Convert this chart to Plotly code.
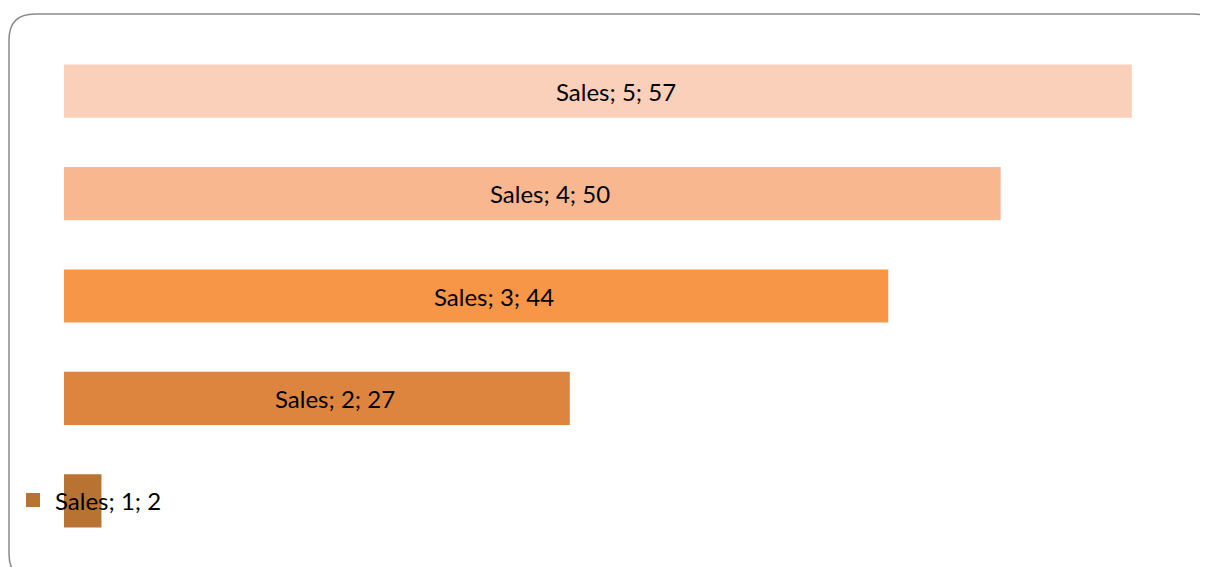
import plotly.graph_objects as go

categories = ["1", "2", "3", "4", "5"]
values = [2, 27, 44, 50, 57]
series_name = "Sales"
colors = ["#B87333", "#DD843F", "#F79646", "#F9B790", "#FBD0BA"]

# the page adds an 8px body margin; work in reference pixels minus that offset
OFF = 8
W, H = 1208 - OFF, 567 - OFF
ML, MR, MT, MB = 64 - OFF, 20, 40 - OFF, 15
XMAX = 60

labels = [f"{series_name}; {c}; {v}" for c, v in zip(categories, values)]
FONT = "Lato, Liberation Sans, sans-serif"

fig = go.Figure()
fig.add_trace(go.Bar(
    x=values, y=categories, orientation="h",
    marker=dict(color=colors, line=dict(width=0)),
    hoverinfo="skip", showlegend=False,
))

pw = W - ML - MR
ph = H - MT - MB
def px(x):
    return (x - OFF - ML) / pw
def py(y):
    return (H - MB - (y - OFF)) / ph

# data labels (centred on bars, nudged right as in the reference)
for i, (v, t) in enumerate(zip(values, labels)):
    if i == 0:
        fig.add_annotation(x=0, y=i, xref="x", yref="y", text=t, showarrow=False,
                           xanchor="left", xshift=-11,
                           font=dict(family=FONT, size=24, color="black"))
    else:
        fig.add_annotation(x=v / 2, y=i, xref="x", yref="y", text=t, showarrow=False,
                           xanchor="center", xshift=18,
                           font=dict(family=FONT, size=24, color="black"))

# legend key beside the first label
fig.add_shape(
    type="rect", xref="paper", yref="paper",
    x0=px(26), x1=px(40), y0=py(507), y1=py(493),
    fillcolor=colors[0], line=dict(width=0), layer="above",
)

# rounded chart border
L, T, R, B, r = 9, 14, 1220, 580, 26
path = (f"M {px(L+r)},{py(T)} L {px(R-r)},{py(T)} Q {px(R)},{py(T)} {px(R)},{py(T+r)} "
        f"L {px(R)},{py(B-r)} Q {px(R)},{py(B)} {px(R-r)},{py(B)} "
        f"L {px(L+r)},{py(B)} Q {px(L)},{py(B)} {px(L)},{py(B-r)} "
        f"L {px(L)},{py(T+r)} Q {px(L)},{py(T)} {px(L+r)},{py(T)} Z")
fig.add_shape(type="path", xref="paper", yref="paper", path=path,
              line=dict(color="#8A8A8A", width=1.5), layer="below")

fig.update_layout(
    width=W, height=H,
    margin=dict(l=ML, r=MR, t=MT, b=MB),
    paper_bgcolor="white", plot_bgcolor="white",
    bargap=0.48,
    xaxis=dict(range=[0, XMAX], visible=False, showgrid=False, zeroline=False),
    yaxis=dict(type="category", range=[-0.5, 4.5], visible=False, showgrid=False),
)

fig.write_html("out.html")
